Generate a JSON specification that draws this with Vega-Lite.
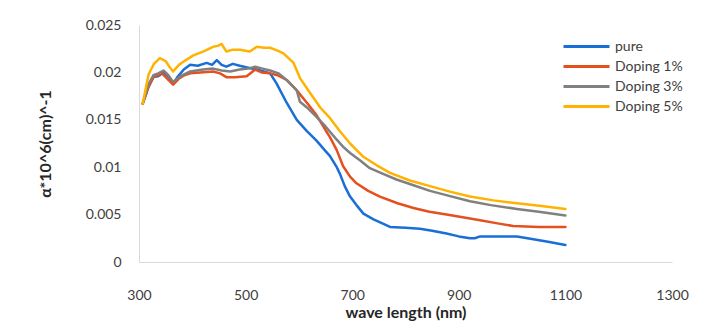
{
  "$schema": "https://vega.github.io/schema/vega-lite/v6.json",
  "width": 533,
  "height": 237,
  "autosize": {"type": "none"},
  "padding": {"left": 139, "top": 25, "right": 35, "bottom": 60},
  "background": "white",
  "config": {
    "view": {"stroke": null},
    "font": "Lato",
    "axis": {"grid": false, "ticks": false, "domainColor": "#d9d9d9", "domainWidth": 1, "labelColor": "#404040", "labelFontSize": 14, "titleColor": "#262626", "titleFontSize": 16, "titleFontWeight": "bold", "labelFont": "Lato", "titleFont": "Lato"},
    "legend": {"labelFont": "Lato", "labelFontSize": 14, "labelColor": "#404040"}
  },
  "data": {"values": [
    {"s":"pure","wl":307,"a":0.0167},{"s":"pure","wl":318,"a":0.0185},{"s":"pure","wl":327,"a":0.0195},{"s":"pure","wl":336,"a":0.0196},{"s":"pure","wl":346,"a":0.0200},{"s":"pure","wl":356,"a":0.0195},{"s":"pure","wl":364,"a":0.0188},{"s":"pure","wl":372,"a":0.0195},{"s":"pure","wl":384,"a":0.0203},{"s":"pure","wl":396,"a":0.0208},{"s":"pure","wl":410,"a":0.0207},{"s":"pure","wl":427,"a":0.0210},{"s":"pure","wl":437,"a":0.0208},{"s":"pure","wl":446,"a":0.0213},{"s":"pure","wl":455,"a":0.0208},{"s":"pure","wl":464,"a":0.0206},{"s":"pure","wl":476,"a":0.0209},{"s":"pure","wl":489,"a":0.0207},{"s":"pure","wl":505,"a":0.0205},{"s":"pure","wl":521,"a":0.0203},{"s":"pure","wl":534,"a":0.0201},{"s":"pure","wl":546,"a":0.0199},{"s":"pure","wl":558,"a":0.01885},{"s":"pure","wl":577,"a":0.0168},{"s":"pure","wl":596,"a":0.0150},{"s":"pure","wl":615,"a":0.0138},{"s":"pure","wl":633,"a":0.0128},{"s":"pure","wl":650,"a":0.0117},{"s":"pure","wl":658,"a":0.0112},{"s":"pure","wl":671,"a":0.0100},{"s":"pure","wl":677,"a":0.0093},{"s":"pure","wl":686,"a":0.0080},{"s":"pure","wl":696,"a":0.0069},{"s":"pure","wl":708,"a":0.0060},{"s":"pure","wl":721,"a":0.0051},{"s":"pure","wl":740,"a":0.0045},{"s":"pure","wl":771,"a":0.0037},{"s":"pure","wl":800,"a":0.0036},{"s":"pure","wl":827,"a":0.0035},{"s":"pure","wl":850,"a":0.0033},{"s":"pure","wl":877,"a":0.0030},{"s":"pure","wl":900,"a":0.0027},{"s":"pure","wl":921,"a":0.0025},{"s":"pure","wl":930,"a":0.0025},{"s":"pure","wl":940,"a":0.0027},{"s":"pure","wl":970,"a":0.0027},{"s":"pure","wl":1009,"a":0.0027},{"s":"pure","wl":1040,"a":0.0024},{"s":"pure","wl":1070,"a":0.0021},{"s":"pure","wl":1100,"a":0.0018},
    {"s":"Doping 1%","wl":307,"a":0.0167},{"s":"Doping 1%","wl":318,"a":0.0185},{"s":"Doping 1%","wl":327,"a":0.0195},{"s":"Doping 1%","wl":335,"a":0.0197},{"s":"Doping 1%","wl":343,"a":0.0199},{"s":"Doping 1%","wl":352,"a":0.0194},{"s":"Doping 1%","wl":364,"a":0.0187},{"s":"Doping 1%","wl":374,"a":0.0193},{"s":"Doping 1%","wl":385,"a":0.0197},{"s":"Doping 1%","wl":396,"a":0.0199},{"s":"Doping 1%","wl":415,"a":0.0200},{"s":"Doping 1%","wl":439,"a":0.0201},{"s":"Doping 1%","wl":452,"a":0.0199},{"s":"Doping 1%","wl":464,"a":0.0195},{"s":"Doping 1%","wl":480,"a":0.0195},{"s":"Doping 1%","wl":502,"a":0.0196},{"s":"Doping 1%","wl":511,"a":0.0200},{"s":"Doping 1%","wl":518,"a":0.0203},{"s":"Doping 1%","wl":530,"a":0.0200},{"s":"Doping 1%","wl":546,"a":0.0199},{"s":"Doping 1%","wl":560,"a":0.0197},{"s":"Doping 1%","wl":577,"a":0.0192},{"s":"Doping 1%","wl":596,"a":0.0181},{"s":"Doping 1%","wl":615,"a":0.0168},{"s":"Doping 1%","wl":633,"a":0.0155},{"s":"Doping 1%","wl":650,"a":0.0139},{"s":"Doping 1%","wl":658,"a":0.0132},{"s":"Doping 1%","wl":671,"a":0.0118},{"s":"Doping 1%","wl":683,"a":0.0101},{"s":"Doping 1%","wl":696,"a":0.0090},{"s":"Doping 1%","wl":708,"a":0.0083},{"s":"Doping 1%","wl":730,"a":0.0075},{"s":"Doping 1%","wl":752,"a":0.0069},{"s":"Doping 1%","wl":785,"a":0.0062},{"s":"Doping 1%","wl":815,"a":0.0057},{"s":"Doping 1%","wl":845,"a":0.0053},{"s":"Doping 1%","wl":877,"a":0.0050},{"s":"Doping 1%","wl":910,"a":0.0047},{"s":"Doping 1%","wl":940,"a":0.0044},{"s":"Doping 1%","wl":970,"a":0.0041},{"s":"Doping 1%","wl":1002,"a":0.0038},{"s":"Doping 1%","wl":1050,"a":0.0037},{"s":"Doping 1%","wl":1100,"a":0.0037},
    {"s":"Doping 3%","wl":307,"a":0.0167},{"s":"Doping 3%","wl":318,"a":0.0188},{"s":"Doping 3%","wl":327,"a":0.0197},{"s":"Doping 3%","wl":336,"a":0.0199},{"s":"Doping 3%","wl":346,"a":0.0202},{"s":"Doping 3%","wl":355,"a":0.0197},{"s":"Doping 3%","wl":364,"a":0.0190},{"s":"Doping 3%","wl":378,"a":0.0196},{"s":"Doping 3%","wl":396,"a":0.0201},{"s":"Doping 3%","wl":420,"a":0.0203},{"s":"Doping 3%","wl":439,"a":0.0204},{"s":"Doping 3%","wl":455,"a":0.0202},{"s":"Doping 3%","wl":471,"a":0.0201},{"s":"Doping 3%","wl":489,"a":0.0203},{"s":"Doping 3%","wl":505,"a":0.0204},{"s":"Doping 3%","wl":518,"a":0.0206},{"s":"Doping 3%","wl":532,"a":0.0204},{"s":"Doping 3%","wl":546,"a":0.0202},{"s":"Doping 3%","wl":562,"a":0.0199},{"s":"Doping 3%","wl":577,"a":0.0192},{"s":"Doping 3%","wl":596,"a":0.0181},{"s":"Doping 3%","wl":602,"a":0.0169},{"s":"Doping 3%","wl":615,"a":0.0163},{"s":"Doping 3%","wl":633,"a":0.0153},{"s":"Doping 3%","wl":650,"a":0.0143},{"s":"Doping 3%","wl":671,"a":0.0129},{"s":"Doping 3%","wl":684,"a":0.0121},{"s":"Doping 3%","wl":696,"a":0.0115},{"s":"Doping 3%","wl":715,"a":0.0107},{"s":"Doping 3%","wl":733,"a":0.0099},{"s":"Doping 3%","wl":758,"a":0.0093},{"s":"Doping 3%","wl":783,"a":0.0087},{"s":"Doping 3%","wl":815,"a":0.0081},{"s":"Doping 3%","wl":846,"a":0.0075},{"s":"Doping 3%","wl":880,"a":0.0070},{"s":"Doping 3%","wl":921,"a":0.0064},{"s":"Doping 3%","wl":960,"a":0.0060},{"s":"Doping 3%","wl":1009,"a":0.0056},{"s":"Doping 3%","wl":1050,"a":0.0053},{"s":"Doping 3%","wl":1100,"a":0.0049},
    {"s":"Doping 5%","wl":307,"a":0.0167},{"s":"Doping 5%","wl":318,"a":0.0198},{"s":"Doping 5%","wl":328,"a":0.0209},{"s":"Doping 5%","wl":339,"a":0.0215},{"s":"Doping 5%","wl":350,"a":0.0212},{"s":"Doping 5%","wl":357,"a":0.0206},{"s":"Doping 5%","wl":364,"a":0.0201},{"s":"Doping 5%","wl":375,"a":0.0208},{"s":"Doping 5%","wl":388,"a":0.0213},{"s":"Doping 5%","wl":402,"a":0.0218},{"s":"Doping 5%","wl":420,"a":0.0222},{"s":"Doping 5%","wl":439,"a":0.0227},{"s":"Doping 5%","wl":448,"a":0.0228},{"s":"Doping 5%","wl":455,"a":0.0230},{"s":"Doping 5%","wl":464,"a":0.0222},{"s":"Doping 5%","wl":476,"a":0.0224},{"s":"Doping 5%","wl":489,"a":0.0224},{"s":"Doping 5%","wl":508,"a":0.0222},{"s":"Doping 5%","wl":521,"a":0.0227},{"s":"Doping 5%","wl":535,"a":0.0226},{"s":"Doping 5%","wl":546,"a":0.0226},{"s":"Doping 5%","wl":560,"a":0.0223},{"s":"Doping 5%","wl":571,"a":0.0220},{"s":"Doping 5%","wl":590,"a":0.0210},{"s":"Doping 5%","wl":602,"a":0.0194},{"s":"Doping 5%","wl":620,"a":0.0179},{"s":"Doping 5%","wl":640,"a":0.0163},{"s":"Doping 5%","wl":658,"a":0.0152},{"s":"Doping 5%","wl":677,"a":0.0138},{"s":"Doping 5%","wl":696,"a":0.0125},{"s":"Doping 5%","wl":721,"a":0.0111},{"s":"Doping 5%","wl":746,"a":0.0102},{"s":"Doping 5%","wl":771,"a":0.0094},{"s":"Doping 5%","wl":808,"a":0.0086},{"s":"Doping 5%","wl":846,"a":0.0080},{"s":"Doping 5%","wl":885,"a":0.0074},{"s":"Doping 5%","wl":921,"a":0.0069},{"s":"Doping 5%","wl":965,"a":0.0065},{"s":"Doping 5%","wl":1009,"a":0.0062},{"s":"Doping 5%","wl":1055,"a":0.0059},{"s":"Doping 5%","wl":1100,"a":0.0056}
  ]},
  "mark": {"type": "line", "strokeWidth": 2.5, "strokeJoin": "round", "strokeCap": "round"},
  "encoding": {
    "x": {"field": "wl", "type": "quantitative", "scale": {"domain": [300, 1300], "nice": false, "zero": false},
      "axis": {"title": "wave length (nm)", "values": [300, 500, 700, 900, 1100, 1300], "format": "d", "labelPadding": 26, "titlePadding": 2, "labelFlush": false}},
    "y": {"field": "a", "type": "quantitative", "scale": {"domain": [0, 0.025], "nice": false},
      "axis": {"title": "α*10^6(cm)^-1", "values": [0, 0.005, 0.01, 0.015, 0.02, 0.025], "labelExpr": "format(datum.value, '.3~f')", "labelPadding": 18, "titlePadding": 32, "labelFlush": false}},
    "color": {"field": "s", "type": "nominal",
      "scale": {"domain": ["pure", "Doping 1%", "Doping 3%", "Doping 5%"], "range": ["#1a6fd6", "#e4501e", "#808080", "#ffb300"]},
      "sort": ["pure", "Doping 1%", "Doping 3%", "Doping 5%"],
      "legend": {"title": null, "orient": "none", "legendX": 436, "legendY": 10, "symbolType": "M-2.3,0H2.3", "symbolSize": 400, "symbolStrokeWidth": 3, "symbolFillColor": "transparent", "rowPadding": 1, "labelOffset": 17, "padding": 0}}
  }
}
